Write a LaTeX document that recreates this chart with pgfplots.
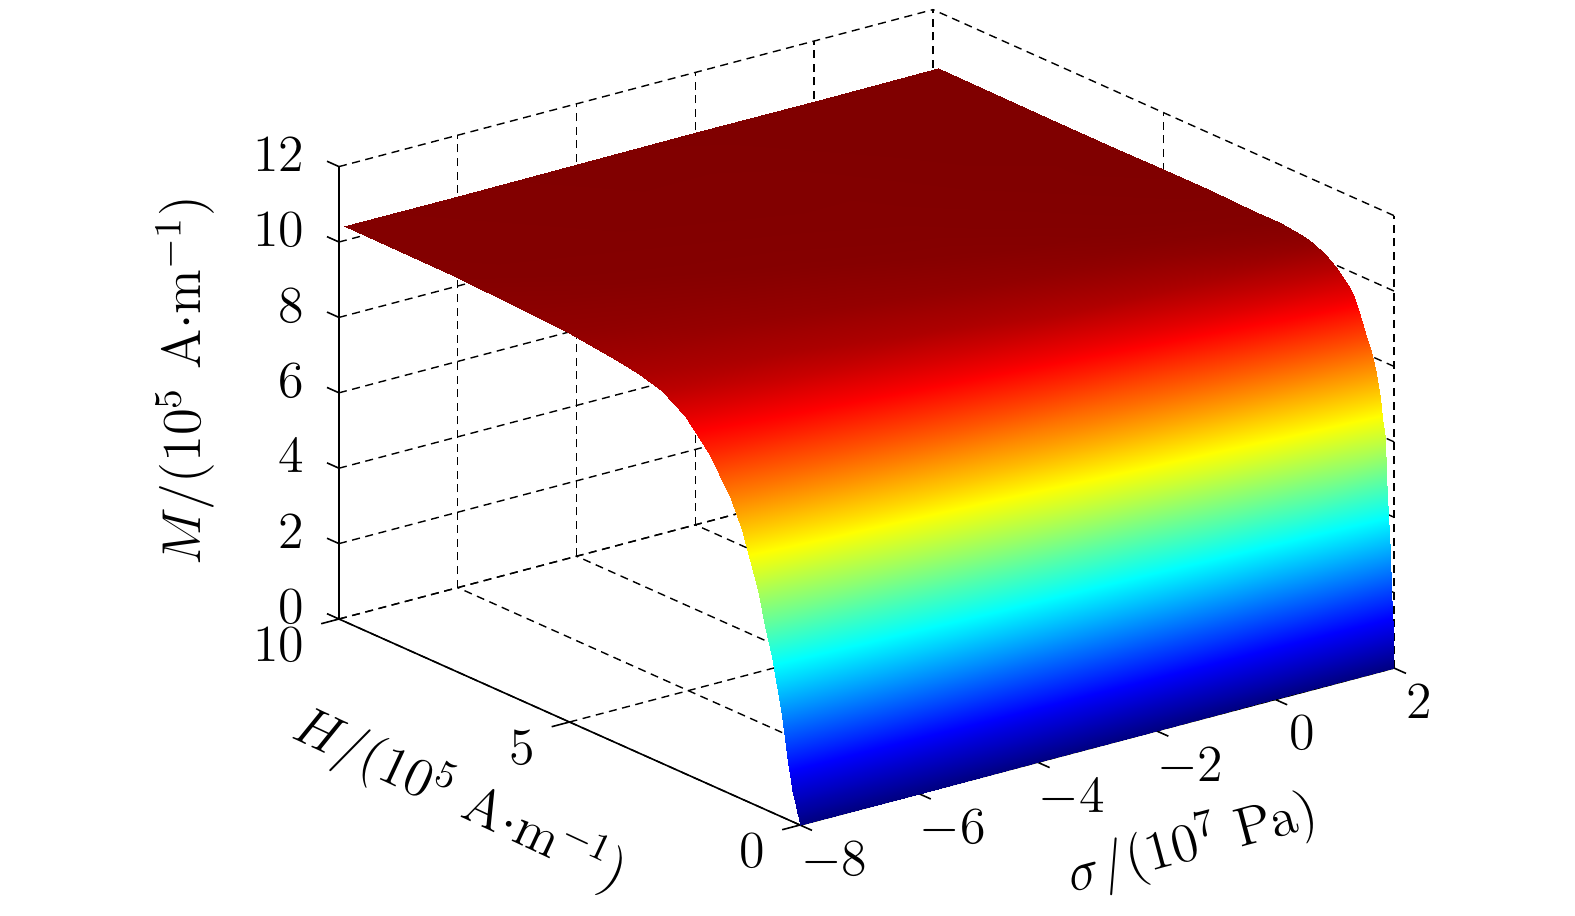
\RequirePackage{fix-cm}
\documentclass[border=0pt]{standalone}
\usepackage{pgfplots}
\pgfplotsset{compat=1.18}

\begin{document}
\begin{tikzpicture}
	\begin{axis}[
		x={(14.85pt,3.925pt)},
		y={(-11.525pt,5.15pt)},
		z={(0pt,9.425pt)},
		xmin=-8, xmax=2,
		ymin=0, ymax=10,
		zmin=0, zmax=12,
		xtick={-8,-6,-4,-2,0,2},
		xticklabels={$-8$,$-6$,$-4$,$-2$,$0$\kern3.5pt,$2$\kern4.5pt},
		ytick={0,5,10},
		ztick={0,2,4,6,8,10,12},
		clip=false,
		grid=major,
		grid style={black, line width=0.35pt, dash pattern=on 2pt off 1.4pt},
		axis line style={draw=none},
		major tick length=0pt,
		font=\fontsize{13}{15}\selectfont,
		xticklabel style={anchor=north, inner sep=0pt, xshift=8.5pt, yshift=-4pt},
		yticklabel style={anchor=north east, inner sep=0pt, xshift=-8.5pt, yshift=-2pt},
		zticklabel style={anchor=east, inner sep=0pt, xshift=-8.5pt, yshift=3pt},
		xlabel={$\sigma/(10^{7}\ \mathrm{Pa})$},
		ylabel={$H/(10^{5}\ \mathrm{A{\cdot}m^{-1}})$},
		zlabel={$M/(10^{5}\ \mathrm{A{\cdot}m^{-1}})$},
		label style={font=\fontsize{13.7}{16}\selectfont},
		xlabel style={at={(axis cs:-4.3,-3.75,0)}, anchor=center, rotate=15, sloped=false},
		ylabel style={at={(axis cs:-11,3.5,0)}, anchor=center, rotate=-25, sloped=false},
		zlabel style={at={(axis cs:-8,13.34,4.5)}, anchor=center, rotate=0, sloped=false},
		colormap/jet,
		point meta min=0,
		point meta max=10.5,
	]
	% solid axis lines with their ticks, the rest of the box comes from the dashed grid
	\addplot3[black, line width=0.4pt] coordinates {
		(-8,10.26,12) (-8,10,12)
		(-8,10,10) (-8,10.26,10) (-8,10,10)
		(-8,10,8) (-8,10.26,8) (-8,10,8)
		(-8,10,6) (-8,10.26,6) (-8,10,6)
		(-8,10,4) (-8,10.26,4) (-8,10,4)
		(-8,10,2) (-8,10.26,2) (-8,10,2)
		(-8,10,0) (-8,10.26,0) (-8,10,0) (-8.3,10,0) (-8,10,0)
		(-8,5,0) (-8.3,5,0) (-8,5,0)
		(-8,0,0) (-8.3,0,0) (-8,0,0) (-8,-0.26,0) (-8,0,0)
		(-6,0,0) (-6,-0.26,0) (-6,0,0)
		(-4,0,0) (-4,-0.26,0) (-4,0,0)
		(-2,0,0) (-2,-0.26,0) (-2,0,0)
		(0,0,0) (0,-0.26,0) (0,0,0)
		(2,0,0) (2,-0.26,0)
	};
	% rows of constant H, sigma = -8 -6 -4 -2 0 2
	\addplot3[surf, shader=interp, mesh/cols=6] coordinates {
		(-8,0,0) (-6,0,0) (-4,0,0) (-2,0,0) (0,0,0) (2,0,0)

		(-8,0.03,0.16) (-6,0.03,0.19) (-4,0.03,0.24) (-2,0.03,0.32) (0,0.03,0.48) (2,0.03,1.00)

		(-8,0.06,0.32) (-6,0.06,0.38) (-4,0.06,0.48) (-2,0.06,0.64) (0,0.06,0.97) (2,0.06,2.00)

		(-8,0.09,0.47) (-6,0.09,0.57) (-4,0.09,0.71) (-2,0.09,0.96) (0,0.09,1.60) (2,0.09,3.00)

		(-8,0.125,0.66) (-6,0.125,0.79) (-4,0.125,0.99) (-2,0.125,1.47) (0,0.125,2.27) (2,0.125,4.00)

		(-8,0.165,0.87) (-6,0.165,1.07) (-4,0.165,1.46) (-2,0.165,2.07) (0,0.165,3.07) (2,0.165,5.00)

		(-8,0.2,1.08) (-6,0.2,1.41) (-4,0.2,1.88) (-2,0.2,2.56) (0,0.2,3.72) (2,0.2,6.00)

		(-8,0.25,1.50) (-6,0.25,1.90) (-4,0.25,2.43) (-2,0.25,3.25) (0,0.25,4.49) (2,0.25,6.50)

		(-8,0.3,1.92) (-6,0.3,2.35) (-4,0.3,2.97) (-2,0.3,3.93) (0,0.3,5.19) (2,0.3,7.00)

		(-8,0.4,2.67) (-6,0.4,3.23) (-4,0.4,4.04) (-2,0.4,4.91) (0,0.4,6.35) (2,0.4,7.61)

		(-8,0.5,3.42) (-6,0.5,4.09) (-4,0.5,4.77) (-2,0.5,5.88) (0,0.5,7.10) (2,0.5,8.13)

		(-8,0.6,4.12) (-6,0.6,4.69) (-4,0.6,5.50) (-2,0.6,6.59) (0,0.6,7.59) (2,0.6,8.49)

		(-8,0.75,4.88) (-6,0.75,5.56) (-4,0.75,6.48) (-2,0.75,7.37) (0,0.75,8.20) (2,0.75,9.03)

		(-8,0.9,5.60) (-6,0.9,6.39) (-4,0.9,7.21) (-2,0.9,7.99) (0,0.9,8.67) (2,0.9,9.44)

		(-8,1,6.09) (-6,1,6.90) (-4,1,7.57) (-2,1,8.25) (0,1,8.96) (2,1,9.61)

		(-8,1.25,7.14) (-6,1.25,7.72) (-4,1.25,8.30) (-2,1.25,8.91) (0,1.25,9.51) (2,1.25,9.96)

		(-8,1.5,7.83) (-6,1.5,8.33) (-4,1.5,8.87) (-2,1.5,9.39) (0,1.5,9.82) (2,1.5,10.16)

		(-8,1.75,8.35) (-6,1.75,8.84) (-4,1.75,9.30) (-2,1.75,9.70) (0,1.75,10.05) (2,1.75,10.32)

		(-8,2,8.81) (-6,2,9.22) (-4,2,9.61) (-2,2,9.97) (0,2,10.16) (2,2,10.39)

		(-8,2.5,9.47) (-6,2.5,9.75) (-4,2.5,10.03) (-2,2.5,10.16) (0,2.5,10.33) (2,2.5,10.46)

		(-8,3,9.88) (-6,3,10.05) (-4,3,10.16) (-2,3,10.31) (0,3,10.42) (2,3,10.47)

		(-8,3.5,10.06) (-6,3.5,10.16) (-4,3.5,10.29) (-2,3.5,10.37) (0,3.5,10.46) (2,3.5,10.48)

		(-8,4,10.16) (-6,4,10.27) (-4,4,10.34) (-2,4,10.43) (0,4,10.47) (2,4,10.49)

		(-8,5,10.32) (-6,5,10.37) (-4,5,10.44) (-2,5,10.46) (0,5,10.48) (2,5,10.50)

		(-8,6,10.38) (-6,6,10.45) (-4,6,10.46) (-2,6,10.47) (0,6,10.49) (2,6,10.50)

		(-8,7.5,10.46) (-6,7.5,10.47) (-4,7.5,10.48) (-2,7.5,10.48) (0,7.5,10.50) (2,7.5,10.50)

		(-8,9.9,10.47) (-6,9.9,10.48) (-4,9.9,10.49) (-2,9.9,10.50) (0,9.9,10.50) (2,9.9,10.50)
	};
	\coordinate (A) at (axis cs:-8,0,0);
	\end{axis}
	\pgfresetboundingbox
	\path[use as bounding box] (A) ++(-200pt,206.25pt) rectangle ++(393.75pt,-228.75pt);
\end{tikzpicture}
\end{document}
